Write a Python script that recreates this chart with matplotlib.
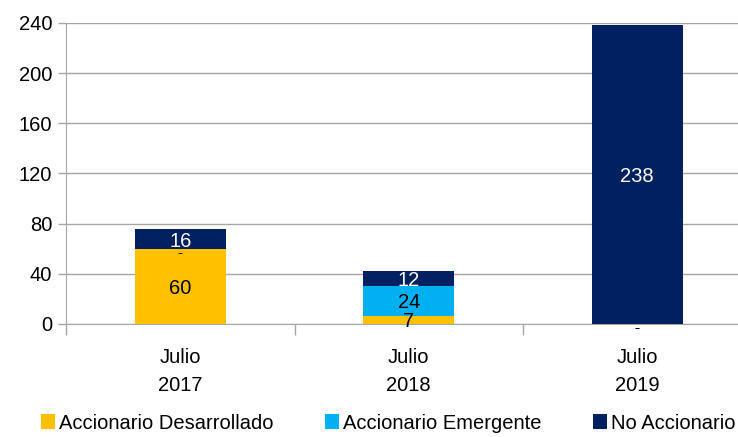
import matplotlib
matplotlib.use("Agg")
import matplotlib.pyplot as plt
import numpy as np

# datos
categorias = ["Julio\n2017", "Julio\n2018", "Julio\n2019"]
series = ["Accionario Desarrollado", "Accionario Emergente", "No Accionario"]
desarrollado = [59.8, 6.6, 0]
emergente = [0, 23.6, 0]
no_accionario = [15.6, 12.3, 238.2]
colores = ["#FFC000", "#00B0F0", "#002060"]
color_texto = ["black", "black", "white"]

plt.rcParams["font.family"] = ["Liberation Sans", "DejaVu Sans"]
plt.rcParams["font.size"] = 14.5

fig = plt.figure(figsize=(7.38, 4.37), dpi=100)
ax = fig.add_axes([0.0894, 0.2586, 0.929, 0.689])

x = np.arange(len(categorias))
base = np.zeros(len(categorias))
gris = "#A6A6A6"
for vals, nombre, col, ctxt in zip([desarrollado, emergente, no_accionario], series, colores, color_texto):
    vals = np.array(vals)
    ax.bar(x, vals, width=0.40, bottom=base, color=col, label=nombre, zorder=3)
    for xi, b, v in zip(x, base, vals):
        if v == 0:
            # etiqueta "-" para los valores cero
            ax.text(xi, b - 3.5, "-", ha="center", va="center", color="black", zorder=4, fontsize=11)
        else:
            ax.text(xi, b + v / 2 - 1.5, f"{v:.0f}", ha="center", va="center", color=ctxt, zorder=4)
    base = base + vals

ax.set_xlim(-0.5, 2.5)
ax.set_ylim(0, 240)
ax.set_yticks(np.arange(0, 241, 40))
ax.set_xticks(x)
ax.set_xticklabels(categorias, linespacing=1.6)
ax.set_xticks([-0.5, 0.5, 1.5, 2.5], minor=True)
ax.tick_params(axis="x", which="major", length=0, pad=17)
ax.tick_params(axis="x", which="minor", length=8, color=gris, width=1)
ax.tick_params(axis="y", length=6, color=gris, width=1, pad=4)

ax.grid(axis="y", color=gris, linewidth=1, zorder=0)
for lado in ["top", "right"]:
    ax.spines[lado].set_visible(False)
ax.spines["left"].set_color(gris)
ax.spines["bottom"].set_color(gris)

fig.legend(loc="center left", bbox_to_anchor=(0.055, 0.032), ncol=3, frameon=False,
           handlelength=0.7, handleheight=0.7, handletextpad=0.2, columnspacing=2.55,
           borderaxespad=0, borderpad=0)

fig.savefig("out.png", dpi=100)
